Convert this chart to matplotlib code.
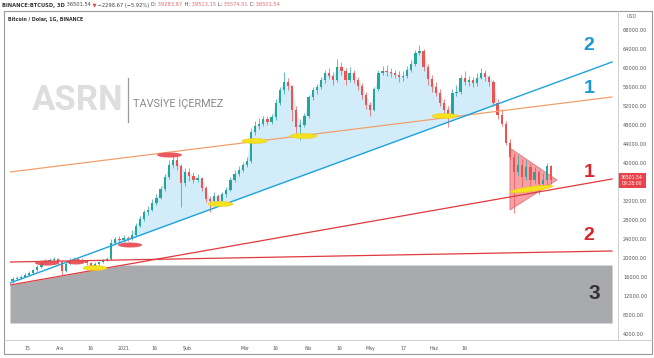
import numpy as np
import matplotlib
matplotlib.use("Agg")
import matplotlib.pyplot as plt
from matplotlib.patches import Polygon, Rectangle
from matplotlib.lines import Line2D

# ---------------- data ----------------
first_open = 15200
closes = [15500, 15800, 16100, 16400, 16900, 17400, 18100, 18900, 19200, 19500,
          19700, 19200, 17300, 18800, 19500, 19800, 19600, 19300, 18900, 18200,
          18800, 19100, 19500, 19700, 23200, 23900, 23700, 24300, 24100, 24900,
          26800, 28300, 29600, 30100, 31500, 32700, 34500, 37000, 39600, 40600,
          39300, 35800, 38100, 37300, 36400, 36800, 34800, 32400, 31900, 33100,
          32100, 33500, 34300, 36400, 37700, 38500, 39600, 40500, 46500, 47800,
          48300, 49200, 48700, 49600, 52600, 55300, 57100, 56300, 51100, 47600,
          48100, 49900, 53900, 55300, 56000, 57400, 58900, 58400, 57500, 60300,
          59400, 57500, 58900, 57500, 56300, 54300, 52200, 51100, 55500, 58900,
          59400, 59100, 58900, 58600, 58100, 58400, 59600, 60900, 63100, 63500,
          60200, 57600, 56000, 54700, 52700, 51100, 50100, 54700, 55000, 57900,
          57100, 57400, 56900, 57900, 58900, 58100, 57100, 52700, 50100, 48300,
          44200, 41200, 38100, 39600, 37100, 39100, 36500, 38100, 35500, 36500,
          39284, 36501.54]
highs = [15900, 16200, 16400, 16800, 17200, 17700, 18500, 19300, 19800, 20000,
         20200, 20000, 19500, 19100, 19900, 20300, 20100, 19900, 19600, 19200,
         19100, 19400, 19800, 20200, 23900, 24500, 24600, 24800, 24700, 25800,
         27400, 28800, 30200, 30900, 32400, 33400, 35200, 37700, 40600, 41900,
         41600, 39700, 38900, 39000, 38000, 37600, 37000, 35200, 33100, 33900,
         33500, 33900, 35000, 37000, 38500, 39400, 40300, 41300, 47300, 48800,
         49500, 49800, 49900, 50400, 53500, 56000, 59100, 57800, 56500, 51900,
         49300, 50600, 54400, 56000, 56600, 58200, 59600, 59900, 59100, 61900,
         61200, 60100, 60300, 59600, 58100, 56800, 55000, 52900, 56100, 59600,
         60400, 60700, 59900, 59600, 59400, 59300, 60400, 61700, 63700, 64800,
         64000, 60800, 58600, 57000, 55500, 53400, 51900, 55500, 56500, 58600,
         59400, 58400, 58100, 58900, 60100, 59600, 58600, 57500, 53400, 51400,
         48800, 45000, 42200, 41600, 40900, 40600, 39900, 39100, 38600, 37800,
         39900, 39513.15]
lows = [14700, 15300, 15600, 15900, 16200, 16600, 17100, 17900, 18600, 18900,
        19100, 18700, 16400, 17000, 18500, 19300, 19200, 18900, 18500, 17700,
        17900, 18600, 18900, 19300, 19600, 22900, 23200, 23400, 23500, 23800,
        24700, 26500, 27800, 29000, 29900, 31100, 32400, 34000, 36600, 38900,
        38500, 30700, 35200, 36200, 35800, 35900, 34000, 31700, 29700, 31400,
        31500, 31800, 32900, 34000, 36000, 37200, 38000, 39100, 40100, 45800,
        47100, 47800, 48100, 48200, 49100, 52200, 54500, 55300, 48800, 46300,
        44800, 47500, 49400, 53300, 54500, 55500, 56800, 57600, 56500, 57100,
        58600, 56500, 57100, 56800, 55300, 53500, 51400, 49800, 50900, 55100,
        58600, 58400, 58100, 57800, 57100, 57300, 57900, 59200, 60400, 62700,
        59400, 56500, 55000, 54000, 51900, 49800, 47500, 49600, 54000, 54500,
        56500, 56300, 56000, 56300, 57600, 57300, 56300, 51900, 49300, 47800,
        43700, 40600, 29500, 37500, 34900, 36500, 34400, 35700, 33400, 34700,
        35200, 35574.51]

date_tick_days = [0, 16, 31, 47, 62, 78, 106, 121, 137, 152, 167, 183, 198, 213]
date_tick_labels = ['15', 'Ara', '16', '2021', '16', 'Şub', 'Mar', '16', 'Nis', '16',
                    'May', '17', 'Haz', '16']
price_ticks = [4000, 8000, 12000, 16000, 20000, 24000, 28000, 32000,
               40000, 44000, 48000, 52000, 56000, 60000, 64000, 68000]

# trend lines (day, price) endpoints
line_days = [-8.27, 284.7]
blue_line = [14737, 61263]
orange_line = [38105, 53895]
red_line1 = [14316, 36632]
red_line2 = [19158, 21474]
gray_zone = [6316, 18526]   # bottom / top

# highlight ellipses: (day0, day1, price0, price1)
red_marks = [(3.9, 15.6, 18947, 18947), (19.5, 28.2, 19158, 19158),
             (44.3, 56.0, 22737, 22737), (63.3, 75.4, 41684, 41684)]
yellow_marks = [(27.3, 38.9, 17895, 17895), (88.1, 100.2, 31368, 31368),
                (104.6, 116.8, 44632, 44632), (128.0, 141.1, 45684, 45684),
                (197.1, 209.7, 49895, 49895), (235.0, 256.0, 33895, 35158)]
triangle = [(235.0, 43158), (257.9, 36421), (235.0, 30105)]

last_price = 36501.54

# ---------------- figure ----------------
W, H = 654, 358
fig = plt.figure(figsize=(W / 100, H / 100), dpi=100)
fig.patch.set_facecolor('white')
ax = fig.add_axes([10 / W, 18 / H, 608 / W, 328 / H])
XL = (-8.27, 287.6)
YL = (2737, 71789)
ax.set_xlim(*XL)
ax.set_ylim(*YL)
for s in ax.spines.values():
    s.set_visible(False)
PXD = 608 / (XL[1] - XL[0])
PXP = 328 / (YL[1] - YL[0])

n = len(closes)
days = np.arange(n) * 2 - 7
c = np.array(closes, float)
o = np.r_[first_open, c[:-1]]
h = np.array(highs, float)
l = np.array(lows, float)

GREEN = '#26a69a'
RED = '#ef5350'

# gray zone bounded by red line 1
gx = np.linspace(line_days[0], line_days[1], 200)
r1 = np.interp(gx, line_days, red_line1)
top = np.minimum(r1, gray_zone[1])
ax.fill_between(gx, gray_zone[0], top, color='#a9aaae', lw=0, zorder=1)

# light blue area between price and blue line
bl = np.interp(days, line_days, blue_line)
upper = np.maximum(o, c)
idx = np.arange(n)
ax.fill_between(days, bl, upper, where=(idx >= 24) & (idx <= 117) & (upper > bl),
                interpolate=True, color='#d3ecf9', lw=0, zorder=1.5)

# triangle
ax.add_patch(Polygon(triangle, closed=True, fc='#f07a82', ec='#e0393e', lw=0.5,
                     alpha=0.7, zorder=2))

# candles
cols = np.where(c >= o, GREEN, RED)
ax.vlines(days, l, h, colors=cols, lw=0.5, zorder=3)
ax.bar(days, np.maximum(np.abs(c - o), 150), bottom=np.minimum(o, c), width=1.1,
       color=cols, lw=0, zorder=3.1)

# trend lines
ax.plot(line_days, orange_line, color='#f2a06a', lw=0.9, zorder=4)
ax.plot(line_days, blue_line, color='#1ea3dc', lw=1.0, zorder=4)
ax.plot(line_days, red_line1, color='#e0393e', lw=0.9, zorder=4)
ax.plot(line_days, red_line2, color='#e0393e', lw=0.9, zorder=4)


def ell(d0, d1, p0, p1, hpx=5.0):
    x0, y0, x1, y1 = d0 * PXD, p0 * PXP, d1 * PXD, p1 * PXP
    cx, cy = (x0 + x1) / 2, (y0 + y1) / 2
    a = np.hypot(x1 - x0, y1 - y0) / 2
    b = hpx / 2
    th = np.arctan2(y1 - y0, x1 - x0)
    t = np.linspace(0, 2 * np.pi, 60)
    xs = cx + a * np.cos(t) * np.cos(th) - b * np.sin(t) * np.sin(th)
    ys = cy + a * np.cos(t) * np.sin(th) + b * np.sin(t) * np.cos(th)
    return np.c_[xs / PXD, ys / PXP]


for m in red_marks:
    ax.add_patch(Polygon(ell(*m), closed=True, fc='#e8474d', ec='none', alpha=0.9, zorder=5))
for m in yellow_marks:
    ax.add_patch(Polygon(ell(*m), closed=True, fc='#f5e21c', ec='#e8c21a', lw=0.3, zorder=5))

# big numbers
NUMF = ['Liberation Sans', 'DejaVu Sans']
ax.text(273.5, 64632, '2', color='#1a9ad6', fontsize=14, fontweight='bold',
        ha='center', va='center', family=NUMF, zorder=6)
ax.text(273.5, 55789, '1', color='#1a9ad6', fontsize=14, fontweight='bold',
        ha='center', va='center', family=NUMF, zorder=6)
ax.text(273.5, 37895, '1', color='#d9262e', fontsize=14, fontweight='bold',
        ha='center', va='center', family=NUMF, zorder=6)
ax.text(273.5, 24632, '2', color='#d9262e', fontsize=14, fontweight='bold',
        ha='center', va='center', family=NUMF, zorder=6)
ax.text(276.0, 12600, '3', color='#333333', fontsize=15, fontweight='bold',
        ha='center', va='center', family=NUMF, zorder=6)

# axes ticks
ax.yaxis.tick_right()
ax.set_yticks(price_ticks)
ax.set_yticklabels([f'{v}.00' for v in price_ticks])
ax.tick_params(axis='y', length=0, pad=3.6, labelsize=3.6, labelcolor='#555555')
ax.set_xticks(date_tick_days)
ax.set_xticklabels(date_tick_labels)
ax.tick_params(axis='x', length=0, pad=4.0, labelsize=3.4, labelcolor='#555555')


def fx(px):
    return px / W


def fy(py):
    return 1 - py / H


# frame
fig.add_artist(Rectangle((fx(4), fy(354)), 648 / W, 343 / H, fill=False,
                         ec='#9a9a9a', lw=0.8, transform=fig.transFigure))
fig.add_artist(Line2D([fx(618), fx(618)], [fy(11), fy(340)], color='#c8c8c8', lw=0.6,
                      transform=fig.transFigure))
fig.add_artist(Line2D([fx(4), fx(652)], [fy(340), fy(340)], color='#c8c8c8', lw=0.6,
                      transform=fig.transFigure))

# price box
fig.add_artist(Rectangle((fx(618), fy(188)), 28 / W, 15 / H, fc='#e8434a', ec='none',
                         transform=fig.transFigure))
fig.text(fx(632), fy(180.5), f'{last_price:.2f}\n09:28:00', color='white', fontsize=3.3,
         ha='center', va='center', linespacing=1.1)
fig.text(fx(632), fy(17), 'USD', color='#666666', fontsize=3.4, ha='center', va='center')

# watermark
fig.text(fx(78), fy(101), 'ASRN', color='#dedede', fontsize=25, fontweight='bold',
         family=['Roboto', 'DejaVu Sans'], ha='center', va='center', zorder=0)
fig.add_artist(Line2D([fx(128), fx(128)], [fy(78), fy(122)], color='#9a9a9a', lw=0.9,
                      transform=fig.transFigure))
fig.text(fx(133), fy(103), 'TAVSİYE İÇERMEZ', color='#8a8a8a', fontsize=7.8,
         family=['Roboto', 'DejaVu Sans'], ha='left', va='center')

# title
fig.text(fx(8), fy(19), 'Bitcoin / Dolar, 1G, BINANCE', color='#333333', fontsize=3.4,
         fontweight='bold', ha='left', va='center')

# header line
fig.canvas.draw()
rend = fig.canvas.get_renderer()
parts = [('BINANCE:BTCUSD, 3D', '#333333', 'bold'), (' 36501.54', '#444444', 'normal'),
         (' ▼', '#e0434b', 'normal'), (' −2298.67 (−5.92%)', '#444444', 'normal'),
         (' O:', '#444444', 'normal'), (' 39283.87', '#e06a70', 'normal'),
         (' H:', '#444444', 'normal'), (' 39513.15', '#e06a70', 'normal'),
         (' L:', '#444444', 'normal'), (' 35574.51', '#e06a70', 'normal'),
         (' C:', '#444444', 'normal'), (' 36501.54', '#e06a70', 'normal')]
xpos = 2.0
for s, col, wt in parts:
    t = fig.text(fx(xpos), fy(5), s, color=col, fontsize=3.7, fontweight=wt,
                 ha='left', va='center')
    xpos += t.get_window_extent(renderer=rend).width

fig.savefig('out.png', dpi=100)
